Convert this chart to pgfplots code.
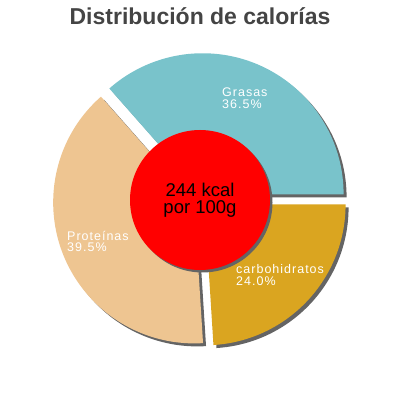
\documentclass[border=0pt]{standalone}
\usepackage{pgfplots}
\pgfplotsset{compat=1.18}
\usepackage{pgfplotstable}
\usepackage{fontspec}
\setmainfont{Liberation Sans}
\newfontfamily\labfont[LetterSpace=8]{Liberation Sans}
\definecolor{grasas}{RGB}{121,195,203}
\definecolor{prot}{RGB}{238,197,145}
\definecolor{carb}{RGB}{218,165,32}
\definecolor{shadowc}{RGB}{100,100,100}
\definecolor{titlec}{RGB}{68,68,68}

\pgfplotstableread{
name value
Grasas 36.5
Proteinas 39.5
carbohidratos 24.0
}\piedata

\newcommand\slice[5]{% color, start, end, cx, cy
  \fill[#1] (axis cs:#4,#5) -- ++(#2:141pt) arc[start angle=#2,end angle=#3,radius=141pt] -- cycle;}

\begin{document}
\begin{tikzpicture}
\pgfplotstablegetelem{0}{value}\of\piedata \let\va\pgfplotsretval
\pgfplotstablegetelem{1}{value}\of\piedata \let\vb\pgfplotsretval
\pgfplotstablegetelem{2}{value}\of\piedata \let\vc\pgfplotsretval
\pgfmathsetmacro\aA{0}
\pgfmathsetmacro\aB{\aA+3.6*\va}
\pgfmathsetmacro\aC{\aB+3.6*\vb}
\pgfmathsetmacro\aD{\aC+3.6*\vc}
\pgfmathsetmacro\xA{6.3*cos((\aA+\aB)/2)}
\pgfmathsetmacro\yA{6.3*sin((\aA+\aB)/2)}
\pgfmathsetmacro\xB{6.3*cos((\aB+\aC)/2)}
\pgfmathsetmacro\yB{6.3*sin((\aB+\aC)/2)}
\pgfmathsetmacro\xC{6.3*cos((\aC+\aD)/2)}
\pgfmathsetmacro\yC{6.3*sin((\aC+\aD)/2)}
\pgfmathsetmacro\sxA{\xA+3}\pgfmathsetmacro\syA{\yA-3}
\pgfmathsetmacro\sxB{\xB+3}\pgfmathsetmacro\syB{\yB-3}
\pgfmathsetmacro\sxC{\xC+3}\pgfmathsetmacro\syC{\yC-3}
\begin{axis}[width=400pt,height=400pt,scale only axis,
  xmin=-200,xmax=200,ymin=-200,ymax=200,hide axis,clip=false]
\path (rel axis cs:0,0) rectangle (rel axis cs:1,1);
% shadows
\slice{shadowc}{\aA}{\aB}{\sxA}{\syA}
\slice{shadowc}{\aB}{\aC}{\sxB}{\syB}
\slice{shadowc}{\aC}{\aD}{\sxC}{\syC}
% slices
\slice{grasas}{\aA}{\aB}{\xA}{\yA}
\slice{prot}{\aB}{\aC}{\xB}{\yB}
\slice{carb}{\aC}{\aD}{\xC}{\yC}
% centre
\fill[shadowc] (axis cs:2.5,-2.5) circle[radius=70pt];
\fill[red] (axis cs:0,0) circle[radius=70pt];
\node[anchor=base,inner sep=0pt,font=\fontsize{18.5}{22}\selectfont] at (axis cs:0,3.5) {244 kcal};
\node[anchor=base,inner sep=0pt,font=\fontsize{18.5}{22}\selectfont] at (axis cs:0,-13.5) {por 100g};
% labels
\tikzset{lab/.style={anchor=base west,text=white,inner sep=0pt,font=\labfont\fontsize{12.5}{14}\selectfont}}
\node[lab] at (axis cs:22,103) {Grasas};
\node[lab] at (axis cs:22,91.5) {36.5\%};
\node[lab] at (axis cs:-133,-40) {Proteínas};
\node[lab] at (axis cs:-133,-51.5) {39.5\%};
\node[lab] at (axis cs:36,-74) {carbohidratos};
\node[lab] at (axis cs:36,-85.5) {24.0\%};
% title
\node[anchor=base,inner sep=0pt,text=titlec,font=\fontsize{23}{26}\selectfont\bfseries] at (axis cs:0,175) {Distribución de calorías};
\end{axis}
\end{tikzpicture}
\end{document}
